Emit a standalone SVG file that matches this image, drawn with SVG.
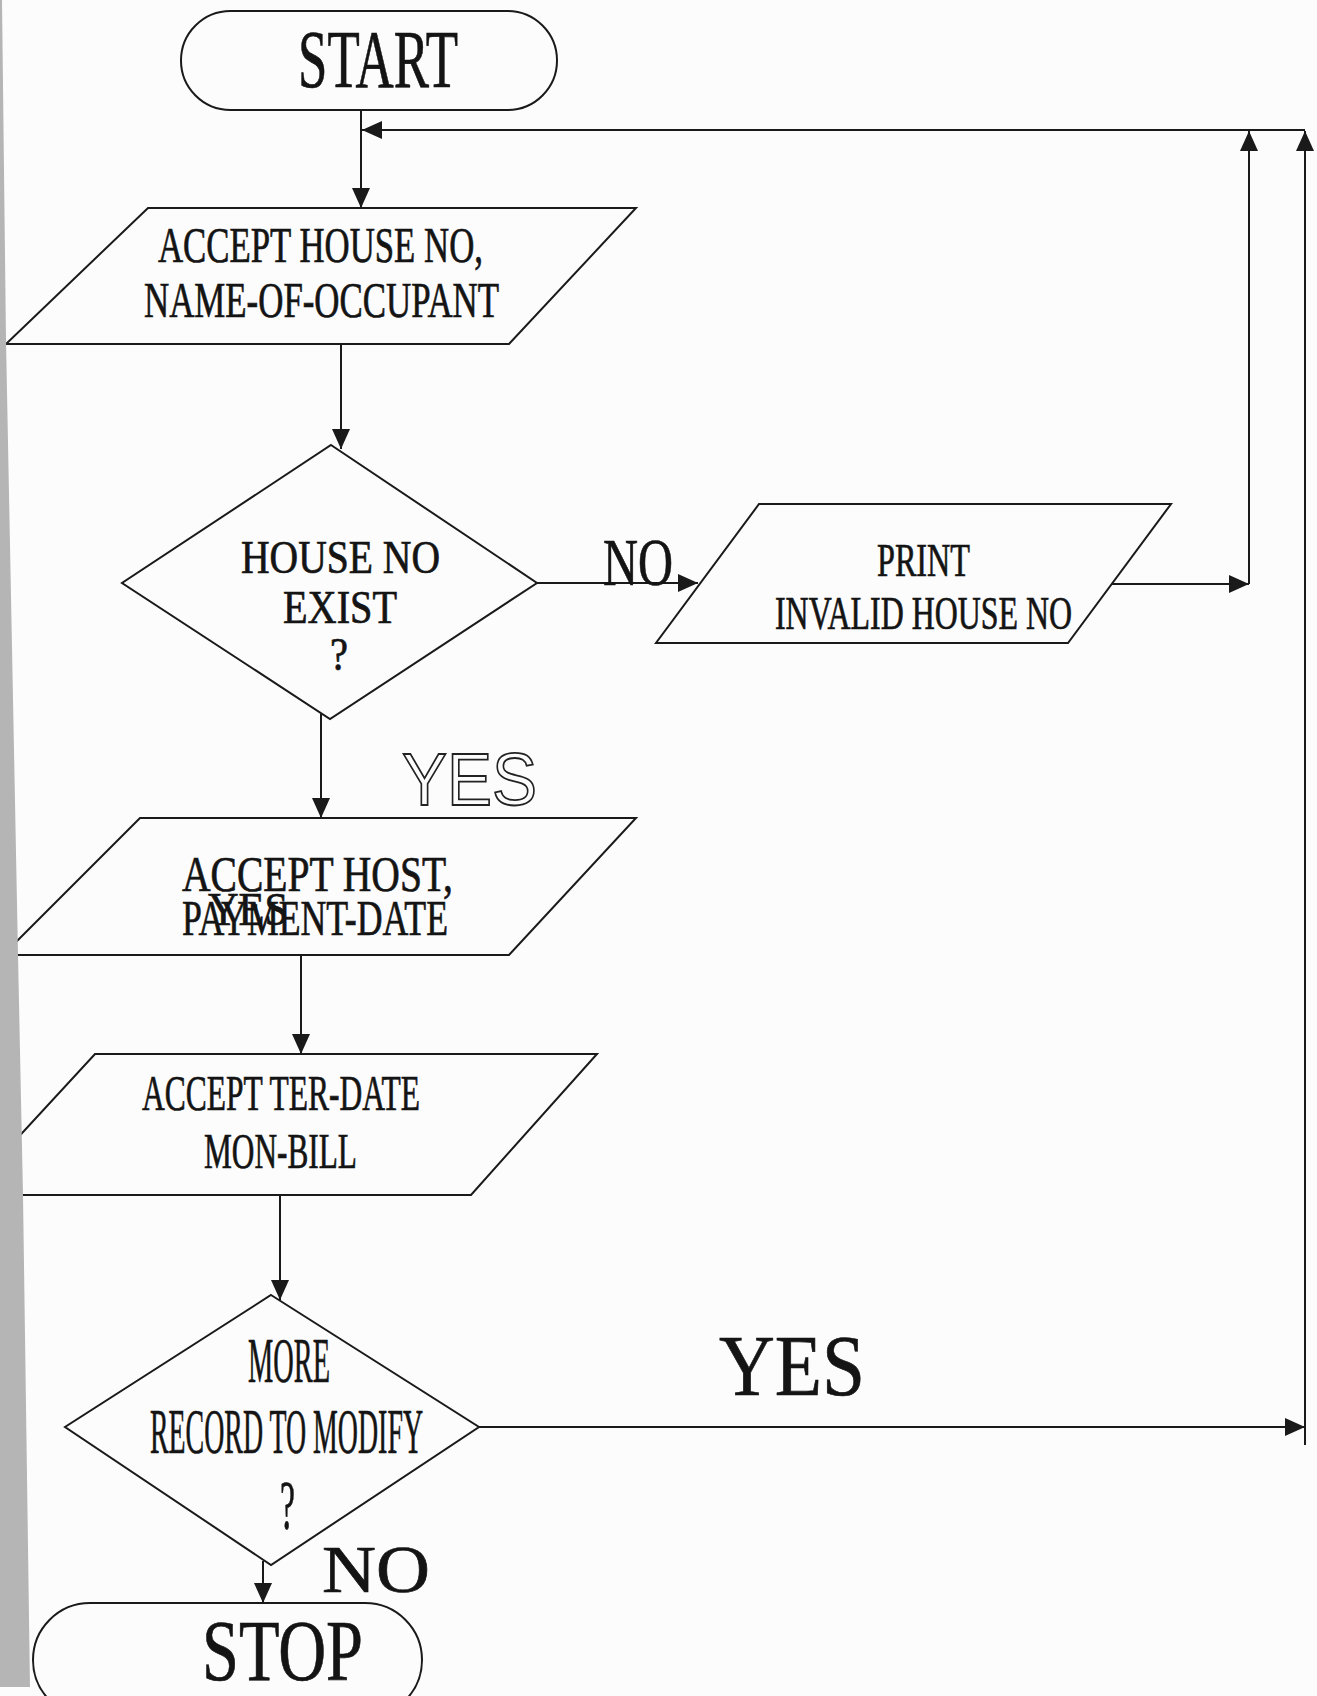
<svg xmlns="http://www.w3.org/2000/svg" width="1317" height="1696" viewBox="0 0 1317 1696">
<style>
.shape{fill:none;stroke:#1a1a1a;stroke-width:2}
.conn{fill:none;stroke:#1a1a1a;stroke-width:2}
.t{font-family:"Liberation Serif","Times New Roman",serif;fill:#141414;stroke:#141414;stroke-width:0.7}
.hand{font-family:"Liberation Sans",Arial,sans-serif;fill:none;stroke:#222;stroke-width:1.8}
</style>
<defs>
<marker id="ah" markerUnits="userSpaceOnUse" markerWidth="20" markerHeight="18" refX="20" refY="9" orient="auto" viewBox="0 0 20 18">
<path d="M0,0 L20,9 L0,18 z" fill="#1a1a1a"/>
</marker>
</defs>
<rect x="0" y="0" width="1317" height="1696" fill="#fcfcfc"/>

<g id="connectors">
<line class="conn" x1="361" y1="110" x2="361" y2="208" marker-end="url(#ah)"/>
<line class="conn" x1="1305" y1="130" x2="362" y2="130" marker-end="url(#ah)"/>
<line class="conn" x1="341" y1="344" x2="341" y2="449" marker-end="url(#ah)"/>
<line class="conn" x1="537" y1="583" x2="698" y2="583" marker-end="url(#ah)"/>
<line class="conn" x1="1112" y1="584" x2="1249" y2="584" marker-end="url(#ah)"/>
<line class="conn" x1="1249" y1="584" x2="1249" y2="131" marker-end="url(#ah)"/>
<line class="conn" x1="321" y1="714" x2="321" y2="818" marker-end="url(#ah)"/>
<line class="conn" x1="301" y1="955" x2="301" y2="1054" marker-end="url(#ah)"/>
<line class="conn" x1="280" y1="1195" x2="280" y2="1300" marker-end="url(#ah)"/>
<line class="conn" x1="479" y1="1427" x2="1305" y2="1427" marker-end="url(#ah)"/>
<line class="conn" x1="1305" y1="1445" x2="1305" y2="131" marker-end="url(#ah)"/>
<line class="conn" x1="263" y1="1561" x2="263" y2="1603" marker-end="url(#ah)"/>
</g>

<g id="start">
<rect class="shape" x="181" y="11" width="376" height="99" rx="49.5"/>
<text class="t" x="298" y="87" font-size="83" textLength="160" lengthAdjust="spacingAndGlyphs">START</text>
</g>

<g id="input-house">
<polygon class="shape" points="148,208 636,208 509,344 6,344"/>
<text class="t" x="158" y="262" font-size="50" textLength="325" lengthAdjust="spacingAndGlyphs">ACCEPT HOUSE NO,</text>
<text class="t" x="144" y="317" font-size="50" textLength="355" lengthAdjust="spacingAndGlyphs">NAME-OF-OCCUPANT</text>
</g>

<g id="decision-exist">
<polygon class="shape" points="331,445 537,583 330,719 122,583"/>
<text class="t" x="241" y="573" font-size="46" textLength="199" lengthAdjust="spacingAndGlyphs">HOUSE NO</text>
<text class="t" x="283" y="623" font-size="46" textLength="114" lengthAdjust="spacingAndGlyphs">EXIST</text>
<text class="t" x="330" y="670" font-size="46" textLength="18" lengthAdjust="spacingAndGlyphs">?</text>
</g>

<g id="label-no-1">
<text class="t" x="603" y="585" font-size="68" textLength="70" lengthAdjust="spacingAndGlyphs">NO</text>
</g>

<g id="print-invalid">
<polygon class="shape" points="759,504 1171,504 1068,643 656,643"/>
<text class="t" x="877" y="576" font-size="46" textLength="93" lengthAdjust="spacingAndGlyphs">PRINT</text>
<text class="t" x="775" y="629" font-size="46" textLength="297" lengthAdjust="spacingAndGlyphs">INVALID HOUSE NO</text>
</g>

<g id="label-yes-hand">
<text class="hand" x="402" y="805" font-size="74" textLength="135" lengthAdjust="spacingAndGlyphs">YES</text>
</g>

<g id="input-host">
<polygon class="shape" points="140,818 636,818 509,955 3,955"/>
<text class="t" x="182" y="891" font-size="50" textLength="271" lengthAdjust="spacingAndGlyphs">ACCEPT HOST,</text>
<text class="t" x="182" y="935" font-size="50" textLength="266" lengthAdjust="spacingAndGlyphs">PAYMENT-DATE</text>
<text class="t" x="208" y="925" font-size="46" textLength="80" lengthAdjust="spacingAndGlyphs">YES</text>
</g>

<g id="input-ter">
<polygon class="shape" points="95,1054 597,1054 471,1195 -35,1195"/>
<text class="t" x="142" y="1110" font-size="50" textLength="278" lengthAdjust="spacingAndGlyphs">ACCEPT TER-DATE</text>
<text class="t" x="204" y="1168" font-size="50" textLength="153" lengthAdjust="spacingAndGlyphs">MON-BILL</text>
</g>

<g id="decision-more">
<polygon class="shape" points="271,1295 479,1427 271,1565 65,1427"/>
<text class="t" x="248" y="1382" font-size="63" textLength="82" lengthAdjust="spacingAndGlyphs">MORE</text>
<text class="t" x="150" y="1453" font-size="63" textLength="273" lengthAdjust="spacingAndGlyphs">RECORD TO MODIFY</text>
<text class="t" x="280" y="1529" font-size="70" textLength="15" lengthAdjust="spacingAndGlyphs">?</text>
</g>

<g id="label-no-2">
<text class="t" x="322" y="1592" font-size="68" textLength="108" lengthAdjust="spacingAndGlyphs">NO</text>
</g>

<g id="label-yes-2">
<text class="t" x="719" y="1395" font-size="86" textLength="146" lengthAdjust="spacingAndGlyphs">YES</text>
</g>

<g id="stop">
<rect class="shape" x="33" y="1603" width="389" height="114" rx="57"/>
<text class="t" x="202" y="1680" font-size="86" textLength="161" lengthAdjust="spacingAndGlyphs">STOP</text>
</g>

<polygon points="0,0 2,0 6,340 18,955 23,1195 30,1687 0,1687" fill="#b5b5b5"/>
</svg>
